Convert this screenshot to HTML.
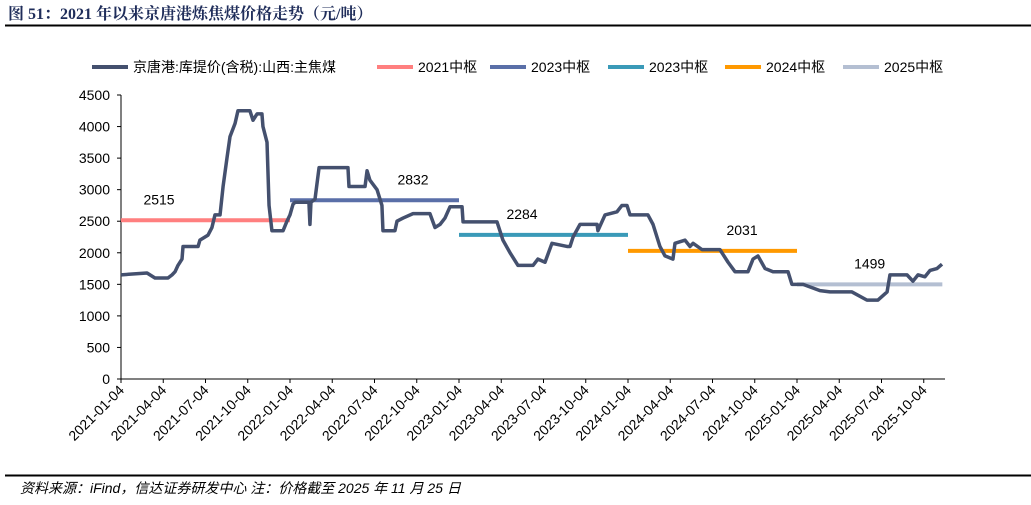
<!DOCTYPE html>
<html><head><meta charset="utf-8">
<style>
body{margin:0;background:#fff;width:1031px;height:500px;overflow:hidden}
svg text{font-family:"Liberation Sans","Noto Sans CJK SC",sans-serif}
</style></head>
<body>
<svg id="chart" width="1031" height="500" xmlns="http://www.w3.org/2000/svg">
<text x="8" y="19" font-size="16" font-weight="bold" fill="#1f2d5a" style="font-family:'Liberation Serif','Noto Serif CJK SC',serif">图 51：2021 年以来京唐港炼焦煤价格走势（元/吨）</text>
<line x1="5" y1="25.5" x2="1031" y2="25.5" stroke="#000" stroke-width="2"/>
<line x1="5" y1="475.5" x2="1031" y2="475.5" stroke="#000" stroke-width="2"/>
<text x="20" y="493" font-size="14" font-style="italic" fill="#000">资料来源：iFind，信达证券研发中心 注：价格截至 2025 年 11 月 25 日</text>
<g id="legend"></g>
<g id="plot"></g>
</svg>
<script>
// t = years since 2021-01-04, value in 元/吨
const priceT = [0,0.154,0.201,0.278,0.302,0.320,0.337,0.361,0.367,0.456,0.467,0.515,0.538,0.556,0.586,0.604,0.627,0.645,0.675,0.692,0.763,0.781,0.805,0.834,0.840,0.864,0.876,0.893,0.959,0.982,1.0,1.018,1.030,1.112,1.118,1.124,1.148,1.172,1.343,1.349,1.444,1.456,1.473,1.515,1.544,1.550,1.621,1.633,1.669,1.728,1.828,1.858,1.888,1.917,1.947,2.018,2.024,2.225,2.260,2.302,2.349,2.438,2.467,2.509,2.550,2.639,2.657,2.675,2.716,2.817,2.822,2.864,2.935,2.964,2.994,3.012,3.118,3.148,3.189,3.219,3.266,3.278,3.337,3.367,3.385,3.438,3.544,3.592,3.633,3.710,3.740,3.769,3.811,3.858,3.947,3.970,4.036,4.136,4.195,4.325,4.414,4.479,4.533,4.550,4.651,4.686,4.716,4.757,4.787,4.828,4.858];
const priceV = [1650,1680,1600,1600,1650,1700,1800,1900,2100,2100,2200,2280,2400,2600,2600,3050,3500,3840,4050,4250,4250,4100,4200,4200,4000,3750,2750,2350,2350,2500,2600,2770,2800,2800,2450,2800,2850,3350,3350,3050,3050,3300,3150,3000,2750,2350,2350,2500,2550,2620,2620,2400,2450,2550,2730,2730,2490,2490,2200,2000,1800,1800,1900,1850,2150,2100,2100,2250,2450,2450,2350,2600,2650,2750,2750,2600,2600,2450,2100,1950,1900,2150,2200,2100,2150,2050,2050,1850,1700,1700,1900,1950,1750,1700,1700,1500,1500,1400,1380,1380,1250,1250,1380,1650,1650,1550,1650,1620,1720,1750,1820];
const medianNames = ["2021中枢","2023中枢","2023中枢","2024中枢","2025中枢"];
const medianValues = [2515,2832,2284,2031,1499];
const medianStart = [0,1,2,3,4];
const medianEnd = [1,2,3,4,4.86];
const medianColors = ["#ff7f7f","#5a6fa8","#3a9ab8","#ff9900","#b4bfd2"];
const yTicks = [0,500,1000,1500,2000,2500,3000,3500,4000,4500];
const xTickLabels = ["2021-01-04","2021-04-04","2021-07-04","2021-10-04","2022-01-04","2022-04-04","2022-07-04","2022-10-04","2023-01-04","2023-04-04","2023-07-04","2023-10-04","2024-01-04","2024-04-04","2024-07-04","2024-10-04","2025-01-04","2025-04-04","2025-07-04","2025-10-04"];
const mainName = "京唐港:库提价(含税):山西:主焦煤";
const mainColor = "#44506e";

const NS="http://www.w3.org/2000/svg";
const X0=121, PXY=169, Y0=379, PYV=284/4500;
const xs=t=>X0+t*PXY, ys=v=>Y0-v*PYV;
const plot=document.getElementById('plot');
function mk(tag,attrs,parent){const e=document.createElementNS(NS,tag);for(const k in attrs)e.setAttribute(k,attrs[k]);(parent||plot).appendChild(e);return e;}

const yAxis=mk('line',{x1:X0,y1:ys(4500),x2:X0,y2:Y0,stroke:'#000','stroke-width':1});


yTicks.forEach(v=>{
  const tk=mk('line',{x1:X0-4,y1:ys(v),x2:X0,y2:ys(v),stroke:'#000'});
  
  
  const tx=mk('text',{x:X0-11,y:ys(v)+5,'font-size':14,'text-anchor':'end',fill:'#000'});
  tx.textContent=v;
  
  
});
const xAxis=mk('line',{x1:X0,y1:Y0,x2:945,y2:Y0,stroke:'#000','stroke-width':1});


xTickLabels.forEach((s,i)=>{
  const x=xs(i*0.25);
  const tk=mk('line',{x1:x,y1:Y0,x2:x,y2:Y0+4,stroke:'#000'});
  
  
  const tx=mk('text',{x:x+4,y:Y0+12,'font-size':14,'text-anchor':'end',fill:'#000',transform:`rotate(-45 ${x+4} ${Y0+12})`});
  tx.textContent=s;
  
  
});
medianValues.forEach((v,i)=>{
  const l=mk('line',{x1:xs(medianStart[i]),y1:ys(v),x2:xs(medianEnd[i]),y2:ys(v),stroke:medianColors[i],'stroke-width':4});
  
  
});
const pl=mk('polyline',{points:priceT.map((t,i)=>xs(t)+','+ys(priceV[i])).join(' '),fill:'none',stroke:mainColor,'stroke-width':3.5,'stroke-linejoin':'round'});


const lblDx=[-0.275,0.228,-0.127,0.175,0];
medianValues.forEach((v,i)=>{
  const cx=xs((medianStart[i]+medianEnd[i])/2+lblDx[i]);
  const tx=mk('text',{x:cx,y:ys(v)-16,'font-size':14,'text-anchor':'middle',fill:'#000'});
  tx.textContent=v;
  
  
});
const lg=document.getElementById('legend');
const legItems=[[mainName,mainColor,92]].concat(medianNames.map((n,i)=>[n,medianColors[i],[377,490,608,725,843][i]]));
legItems.forEach(([n,c,x])=>{
  const l=mk('line',{x1:x,y1:67,x2:x+36,y2:67,stroke:c,'stroke-width':4},lg);
  
  
  const t=mk('text',{x:x+41,y:72,'font-size':14,fill:'#000'},lg);
  t.textContent=n;
  
  
});
</script>
</body></html>
